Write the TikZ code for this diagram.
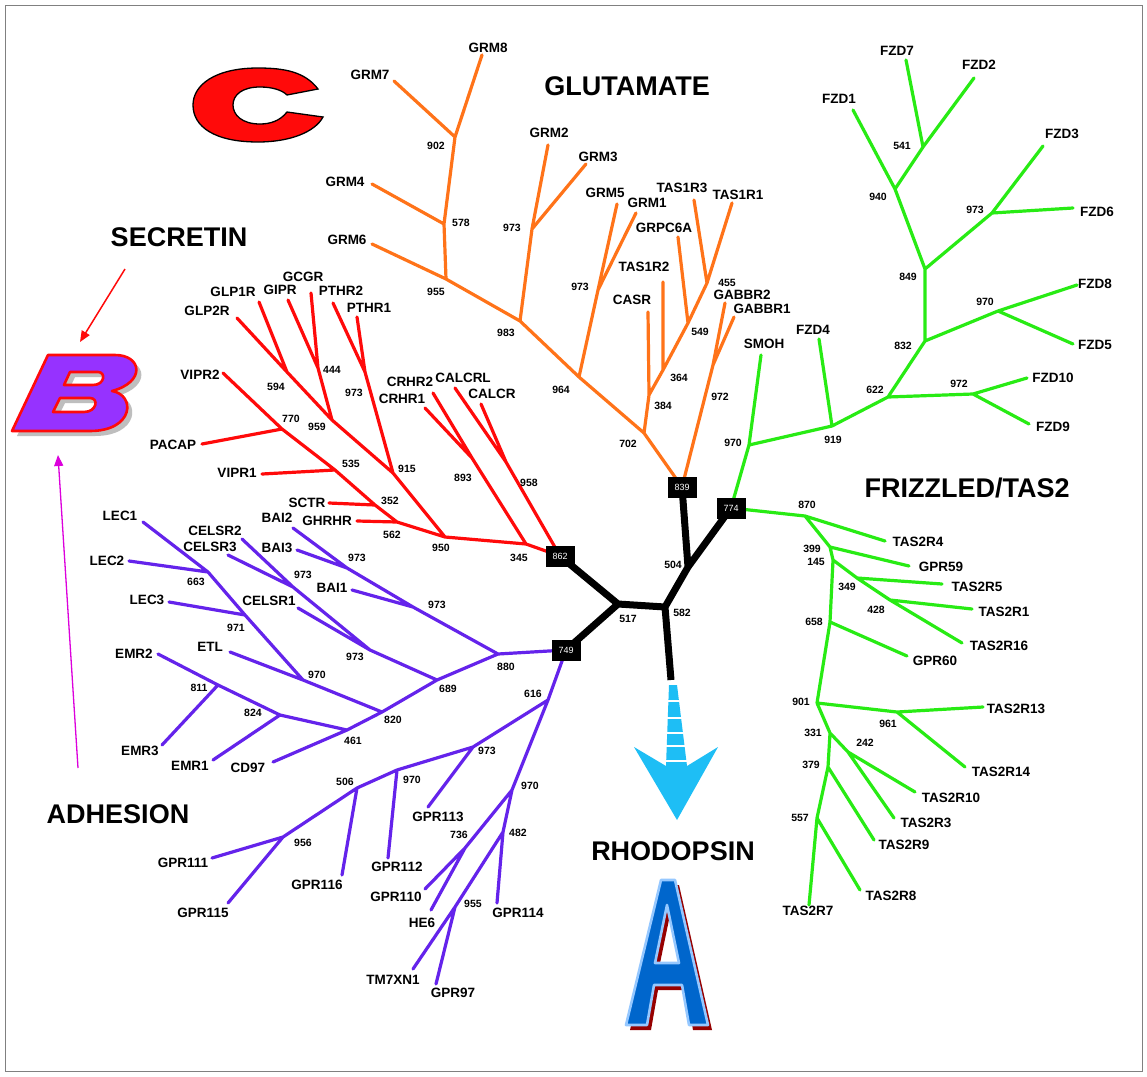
\documentclass[tikz,border=0pt]{standalone}
\usepackage{fontspec}
\setmainfont{Liberation Sans}
\usetikzlibrary{arrows.meta}
\definecolor{orn}{RGB}{255,115,25}
\definecolor{rd}{RGB}{255,10,10}
\definecolor{grn}{RGB}{40,235,20}
\definecolor{pur}{RGB}{100,35,235}
\definecolor{cyn}{RGB}{30,190,245}
\definecolor{ablue}{RGB}{0,102,204}
\definecolor{alight}{RGB}{150,200,255}
\definecolor{ashadow}{RGB}{150,0,0}
\definecolor{bpur}{RGB}{150,50,255}
\definecolor{mag}{RGB}{220,0,220}
\definecolor{shgray}{RGB}{190,190,190}
\tikzset{
 br/.style={line width=3.2pt, line cap=round},
 og/.style={br, draw=orn},
 rl/.style={br, draw=rd},
 gl/.style={br, draw=grn},
 pl/.style={br, draw=pur},
 kl/.style={line width=7pt, draw=black},
 lf/.style={font=\fontsize{13.5}{14}\selectfont\bfseries, inner sep=0pt},
 bs/.style={font=\fontsize{10.5}{11}\selectfont\bfseries, inner sep=0pt},
 big/.style={font=\fontsize{27}{28}\selectfont\bfseries, inner sep=0pt},
 blk/.style={fill=black, text=white, font=\fontsize{9}{9}\selectfont, minimum width=29pt, minimum height=21pt, inner sep=0pt},
}
\newcommand\myBshape{(12,431) -- (48,355) -- (115,355) .. controls (142,355) and (146,382) .. (112,391) .. controls (136,395) and (134,431) .. (90,431) -- cycle
 (70,372) -- (98,372) .. controls (106,372) and (105,385) .. (93,385) -- (64,385) -- cycle
 (60,398) -- (90,398) .. controls (99,398) and (97,412) .. (84,412) -- (53,412) -- cycle}
\newcommand\myAshape{(661,880) -- (675,880) -- (708,1025) -- (689,1025) -- (682,985) -- (654,985) -- (647,1025) -- (626,1025) -- cycle
 (667,905) -- (679,963) -- (655,963) -- cycle}
\begin{document}
\begin{tikzpicture}[x=1pt,y=-1pt]
\useasboundingbox (0,0) rectangle (1147,1076);
\fill[white] (0,0) rectangle (1147,1076);
\draw[gray, line width=1pt] (5,5) rectangle (1142,1071);

% ---------- coordinates: glutamate ----------
\coordinate (g8) at (482,55); \coordinate (g7) at (394,81); \coordinate (n902) at (455,137);
\coordinate (g4) at (372,184); \coordinate (n578) at (444,224); \coordinate (g6) at (372,244);
\coordinate (n955) at (446,279); \coordinate (n983) at (520,321); \coordinate (g2) at (548,145);
\coordinate (g3) at (586,164); \coordinate (n973a) at (532,229); \coordinate (n964) at (579,377);
\coordinate (n973b) at (598,290); \coordinate (g5) at (617,204); \coordinate (g1) at (636,213);
\coordinate (n702) at (644,433); \coordinate (n384) at (649,395); \coordinate (casr) at (648,312);
\coordinate (n364) at (663,370); \coordinate (tas1r2) at (663,282); \coordinate (n549) at (688,323);
\coordinate (grpc) at (678,237); \coordinate (n455) at (707,283); \coordinate (t1r3) at (694,200);
\coordinate (t1r1) at (732,203); \coordinate (n972) at (713,365); \coordinate (gb2) at (725,303);
\coordinate (gb1) at (734,317);
% ---------- boxes & centre ----------
\coordinate (c839) at (682,487); \coordinate (c774) at (731,508);
\coordinate (c862) at (560,556); \coordinate (c749) at (566,650);
\coordinate (n517) at (618,604); \coordinate (n582) at (665,607);
\coordinate (n504) at (688,567); \coordinate (rho) at (671,680);
% ---------- frizzled ----------
\coordinate (fz7) at (906,60); \coordinate (fz2) at (974,78); \coordinate (n541) at (923,147);
\coordinate (fz1) at (853,110); \coordinate (n940) at (895,189); \coordinate (n849) at (925,269);
\coordinate (n973f) at (992,213); \coordinate (fz3) at (1043,146); \coordinate (fz6) at (1073,208);
\coordinate (n832) at (925,341); \coordinate (n970f) at (998,311); \coordinate (fz8) at (1077,285);
\coordinate (fz5) at (1073,344); \coordinate (n622) at (888,397); \coordinate (n972f) at (973,394);
\coordinate (fz10) at (1027,378); \coordinate (fz9) at (1029,424); \coordinate (n919) at (832,426);
\coordinate (fz4) at (819,339); \coordinate (n970s) at (749,445); \coordinate (smoh) at (761,355);
% ---------- TAS2 ----------
\coordinate (n870) at (805,516); \coordinate (t4) at (885,541); \coordinate (n399) at (830,547);
\coordinate (g59) at (909,566); \coordinate (n145) at (833,560); \coordinate (n349) at (857,578);
\coordinate (t5) at (942,584); \coordinate (n428) at (890,600); \coordinate (t1) at (972,609);
\coordinate (t16) at (962,643); \coordinate (n658) at (830,622); \coordinate (g60) at (907,656);
\coordinate (n901) at (817,703); \coordinate (n961) at (897,712); \coordinate (t13) at (983,707);
\coordinate (t14) at (965,767); \coordinate (n331) at (830,733); \coordinate (n242) at (848,752);
\coordinate (t10) at (915,792); \coordinate (t3) at (894,818); \coordinate (n379) at (828,767);
\coordinate (t9) at (874,840); \coordinate (n557) at (817,818); \coordinate (t8) at (860,890);
\coordinate (t7) at (809,905);
% ---------- secretin ----------
\coordinate (n345) at (526,544); \coordinate (n950) at (445,537); \coordinate (n893) at (472,458);
\coordinate (crhr1) at (425,408); \coordinate (crhr2) at (433,393); \coordinate (n958) at (506,462);
\coordinate (calcrl) at (455,388); \coordinate (calcr) at (481,404); \coordinate (n562) at (397,522);
\coordinate (ghrhr) at (357,521); \coordinate (n352) at (375,505); \coordinate (sctr) at (329,503);
\coordinate (n535) at (335,470); \coordinate (vipr1) at (262,474); \coordinate (n770) at (282,429);
\coordinate (pacap) at (202,444); \coordinate (vipr2) at (223,373); \coordinate (n915) at (393,473);
\coordinate (n973s) at (365,372); \coordinate (pthr2) at (333,303); \coordinate (pthr1) at (357,317);
\coordinate (n959) at (332,420); \coordinate (n594) at (287,372); \coordinate (glp2r) at (237,318);
\coordinate (glp1r) at (259,302); \coordinate (n444) at (318,368); \coordinate (gipr) at (288,300);
\coordinate (gcgr) at (311,293);
% ---------- adhesion ----------
\coordinate (n880) at (498,654); \coordinate (bai2) at (293,528); \coordinate (bai3) at (297,550);
\coordinate (n973p) at (347,568); \coordinate (bai1) at (352,590); \coordinate (n973q) at (413,607);
\coordinate (n689) at (437,680); \coordinate (celsr2) at (242,539); \coordinate (celsr3) at (228,555);
\coordinate (n973r) at (293,587); \coordinate (celsr1) at (298,608); \coordinate (n973t) at (370,650);
\coordinate (n820) at (382,712); \coordinate (n970p) at (303,680); \coordinate (etl) at (230,652);
\coordinate (n971) at (245,615); \coordinate (lec3) at (169,602); \coordinate (n663) at (208,572);
\coordinate (lec2) at (129,561); \coordinate (lec1) at (143,522); \coordinate (n461) at (347,730);
\coordinate (n824) at (280,715); \coordinate (n811) at (218,685); \coordinate (emr2) at (158,654);
\coordinate (emr3) at (162,745); \coordinate (emr1) at (213,760); \coordinate (cd97) at (273,762);
\coordinate (n616) at (548,700); \coordinate (n973u) at (473,747); \coordinate (gpr113) at (428,807);
\coordinate (n970u) at (397,770); \coordinate (gpr112) at (388,858); \coordinate (n506) at (357,788);
\coordinate (gpr116) at (342,875); \coordinate (n956) at (283,837); \coordinate (gpr111) at (212,858);
\coordinate (gpr115) at (228,903); \coordinate (n970v) at (512,790); \coordinate (n736) at (465,848);
\coordinate (gpr110) at (425,889); \coordinate (he6) at (431,910); \coordinate (n482) at (503,832);
\coordinate (gpr114) at (497,903); \coordinate (n955a) at (455,907); \coordinate (tmtxn) at (413,969);
\coordinate (gpr97) at (436,984);

% ---------- branches ----------
\draw[og] (g8) -- (n902) (g7) -- (n902) (n902) -- (n578) (g4) -- (n578) (n578) -- (n955)
 (g6) -- (n955) (n955) -- (n983) (g2) -- (n973a) (g3) -- (n973a) (n973a) -- (n983)
 (n983) -- (n964) (g5) -- (n973b) (g1) -- (n973b) (n973b) -- (n964) (n964) -- (n702)
 (casr) -- (n384) (n384) -- (n702) (tas1r2) -- (n364) (n364) -- (n384) (grpc) -- (n549)
 (n549) -- (n364) (t1r3) -- (n455) (t1r1) -- (n455) (n455) -- (n549) (n702) -- (c839)
 (gb2) -- (n972) (gb1) -- (n972) (n972) -- (c839);
\draw[gl] (fz7) -- (n541) (fz2) -- (n541) (n541) -- (n940) (fz1) -- (n940) (n940) -- (n849)
 (n849) -- (n973f) (fz3) -- (n973f) (fz6) -- (n973f) (n849) -- (n832) (n832) -- (n970f)
 (fz8) -- (n970f) (fz5) -- (n970f) (n832) -- (n622) (n622) -- (n972f) (fz10) -- (n972f)
 (fz9) -- (n972f) (n622) -- (n919) (fz4) -- (n919) (n919) -- (n970s) (smoh) -- (n970s)
 (n970s) -- (c774);
\draw[gl] (c774) -- (n870) (n870) -- (t4) (n870) -- (n399) (n399) -- (g59) (n399) -- (n145)
 (n145) -- (n349) (n349) -- (t5) (n349) -- (n428) (n428) -- (t1) (n428) -- (t16)
 (n145) -- (n658) (n658) -- (g60) (n658) -- (n901) (n901) -- (n961) (n961) -- (t13)
 (n961) -- (t14) (n901) -- (n331) (n331) -- (n242) (n242) -- (t10) (n242) -- (t3)
 (n331) -- (n379) (n379) -- (t9) (n379) -- (n557) (n557) -- (t8) (n557) -- (t7);
\draw[rl] (n345) -- (c862) (n950) -- (n345) (n893) -- (n345) (crhr1) -- (n893) (crhr2) -- (n893)
 (n958) -- (c862) (calcrl) -- (n958) (calcr) -- (n958) (n562) -- (n950) (ghrhr) -- (n562)
 (n352) -- (n562) (sctr) -- (n352) (n535) -- (n352) (vipr1) -- (n535) (n770) -- (n535)
 (pacap) -- (n770) (vipr2) -- (n770) (n915) -- (n950) (n973s) -- (n915) (pthr2) -- (n973s)
 (pthr1) -- (n973s) (n959) -- (n915) (n594) -- (n959) (glp2r) -- (n594) (glp1r) -- (n594)
 (n444) -- (n959) (gipr) -- (n444) (gcgr) -- (n444);
\draw[pl] (n880) -- (c749) (bai2) -- (n973p) (bai3) -- (n973p) (n973p) -- (n973q) (bai1) -- (n973q)
 (n973q) -- (n880) (n689) -- (n880) (celsr2) -- (n973r) (celsr3) -- (n973r) (n973r) -- (n973t)
 (celsr1) -- (n973t) (n973t) -- (n689) (n820) -- (n689) (n970p) -- (n820) (etl) -- (n970p)
 (n971) -- (n970p) (lec3) -- (n971) (n663) -- (n971) (lec2) -- (n663) (lec1) -- (n663)
 (n461) -- (n820) (n824) -- (n461) (n811) -- (n824) (emr2) -- (n811) (emr3) -- (n811)
 (emr1) -- (n824) (cd97) -- (n461);
\draw[pl] (c749) -- (n616) (n616) -- (n973u) (gpr113) -- (n973u) (n973u) -- (n970u)
 (gpr112) -- (n970u) (n970u) -- (n506) (gpr116) -- (n506) (n506) -- (n956) (gpr111) -- (n956)
 (gpr115) -- (n956) (n616) -- (n970v) (n970v) -- (n736) (gpr110) -- (n736) (he6) -- (n736)
 (n970v) -- (n482) (gpr114) -- (n482) (n482) -- (n955a) (tmtxn) -- (n955a) (gpr97) -- (n955a);
% black core
\draw[kl] (c839) -- (n504) (c774) -- (n504) (n504) -- (n582) (n517) -- (n582)
 (c862) -- (n517) (c749) -- (n517) (n582) -- (rho);
\node[blk] (b839) at (c839) {839};
\node[blk] (b774) at (c774) {774};
\node[blk] (b862) at (c862) {862};
\node[blk] (b749) at (c749) {749};

% ---------- leaf labels ----------
\node[lf] (lGRM8) at (488,48) {GRM8}; \node[lf] (lGRM7) at (370,75) {GRM7};
\node[lf] (lGRM4) at (345,182) {GRM4}; \node[lf] (lGRM6) at (347,240) {GRM6};
\node[lf] (lGRM2) at (549,133) {GRM2}; \node[lf] (lGRM3) at (598,157) {GRM3};
\node[lf] (lGRM5) at (605,193) {GRM5}; \node[lf] (lGRM1) at (647,203) {GRM1};
\node[lf] (lT1R3) at (682,188) {TAS1R3}; \node[lf] (lT1R1) at (738,195) {TAS1R1};
\node[lf] (lGRPC) at (664,228) {GRPC6A}; \node[lf] (lT1R2) at (644,267) {TAS1R2};
\node[lf] (lCASR) at (632,300) {CASR}; \node[lf] (lGB2) at (742,295) {GABBR2};
\node[lf] (lGB1) at (762,309) {GABBR1};
\node[lf] (lFZ7) at (897,51) {FZD7}; \node[lf] (lFZ2) at (979,65) {FZD2};
\node[lf] (lFZ1) at (839,99) {FZD1}; \node[lf] (lFZ3) at (1062,134) {FZD3};
\node[lf] (lFZ6) at (1097,212) {FZD6}; \node[lf] (lFZ8) at (1095,284) {FZD8};
\node[lf] (lFZ5) at (1095,345) {FZD5}; \node[lf] (lFZ10) at (1053,378) {FZD10};
\node[lf] (lFZ9) at (1053,427) {FZD9}; \node[lf] (lFZ4) at (813,330) {FZD4};
\node[lf] (lSMOH) at (764,344) {SMOH};
\node[lf] (lT4) at (918,542) {TAS2R4}; \node[lf] (lG59) at (941,567) {GPR59};
\node[lf] (lT5) at (977,587) {TAS2R5}; \node[lf] (lT1) at (1004,612) {TAS2R1};
\node[lf] (lT16) at (999,646) {TAS2R16}; \node[lf] (lG60) at (935,661) {GPR60};
\node[lf] (lT13) at (1016,709) {TAS2R13}; \node[lf] (lT14) at (1001,772) {TAS2R14};
\node[lf] (lT10) at (951,798) {TAS2R10}; \node[lf] (lT3) at (926,823) {TAS2R3};
\node[lf] (lT9) at (904,845) {TAS2R9}; \node[lf] (lT8) at (891,896) {TAS2R8};
\node[lf] (lT7) at (808,911) {TAS2R7};
\node[lf] (lCRHR2) at (410,382) {CRHR2}; \node[lf] (lCRHR1) at (402,399) {CRHR1};
\node[lf] (lCALCRL) at (463,378) {CALCRL}; \node[lf] (lCALCR) at (492,394) {CALCR};
\node[lf] (lGHRHR) at (327,521) {GHRHR}; \node[lf] (lSCTR) at (307,503) {SCTR};
\node[lf] (lVIPR1) at (237,473) {VIPR1}; \node[lf] (lPACAP) at (173,445) {PACAP};
\node[lf] (lVIPR2) at (200,375) {VIPR2}; \node[lf] (lPTHR2) at (341,291) {PTHR2};
\node[lf] (lPTHR1) at (369,308) {PTHR1}; \node[lf] (lGLP2R) at (207,311) {GLP2R};
\node[lf] (lGLP1R) at (233,292) {GLP1R}; \node[lf] (lGIPR) at (280,290) {GIPR};
\node[lf] (lGCGR) at (303,277) {GCGR};
\node[lf] (lLEC1) at (120,516) {LEC1}; \node[lf] (lLEC2) at (107,561) {LEC2};
\node[lf] (lLEC3) at (147,600) {LEC3}; \node[lf] (lCELSR2) at (215,531) {CELSR2};
\node[lf] (lCELSR3) at (210,547) {CELSR3}; \node[lf] (lBAI2) at (277,518) {BAI2};
\node[lf] (lBAI3) at (277,548) {BAI3}; \node[lf] (lBAI1) at (332,588) {BAI1};
\node[lf] (lCELSR1) at (269,601) {CELSR1}; \node[lf] (lETL) at (210,647) {ETL};
\node[lf] (lEMR2) at (134,654) {EMR2}; \node[lf] (lEMR3) at (140,751) {EMR3};
\node[lf] (lEMR1) at (190,766) {EMR1}; \node[lf] (lCD97) at (248,768) {CD97};
\node[lf] (lG113) at (438,817) {GPR113}; \node[lf] (lG112) at (397,867) {GPR112};
\node[lf] (lG116) at (317,885) {GPR116}; \node[lf] (lG111) at (183,863) {GPR111};
\node[lf] (lG115) at (203,913) {GPR115}; \node[lf] (lG110) at (396,897) {GPR110};
\node[lf] (lHE6) at (422,923) {HE6}; \node[lf] (lG114) at (518,913) {GPR114};
\node[lf] (lTM) at (393,980) {TM7XN1}; \node[lf] (lG97) at (453,993) {GPR97};

% ---------- bootstrap values ----------
\node[bs] (v902) at (436,146) {902}; \node[bs] (v578) at (461,223) {578};
\node[bs] (v955) at (436,292) {955}; \node[bs] (v983) at (506,333) {983};
\node[bs] (v973a) at (512,228) {973}; \node[bs] (v973b) at (580,287) {973};
\node[bs] (v964) at (561,390) {964}; \node[bs] (v702) at (628,444) {702};
\node[bs] (v384) at (663,406) {384}; \node[bs] (v364) at (679,378) {364};
\node[bs] (v549) at (700,332) {549}; \node[bs] (v455) at (727,283) {455};
\node[bs] (v972) at (720,397) {972};
\node[bs] (v541) at (902,146) {541}; \node[bs] (v940) at (878,197) {940};
\node[bs] (v849) at (908,277) {849}; \node[bs] (v973f) at (975,210) {973};
\node[bs] (v970f) at (985,302) {970}; \node[bs] (v832) at (903,346) {832};
\node[bs] (v622) at (875,390) {622}; \node[bs] (v972f) at (959,384) {972};
\node[bs] (v919) at (833,440) {919}; \node[bs] (v970s) at (733,443) {970};
\node[bs] (v870) at (807,505) {870}; \node[bs] (v399) at (812,549) {399};
\node[bs] (v145) at (816,562) {145}; \node[bs] (v349) at (847,587) {349};
\node[bs] (v428) at (876,610) {428}; \node[bs] (v658) at (814,622) {658};
\node[bs] (v901) at (801,702) {901}; \node[bs] (v961) at (888,724) {961};
\node[bs] (v331) at (813,733) {331}; \node[bs] (v242) at (865,743) {242};
\node[bs] (v379) at (811,765) {379}; \node[bs] (v557) at (800,818) {557};
\node[bs] (v345) at (519,558) {345}; \node[bs] (v950) at (441,548) {950};
\node[bs] (v893) at (463,478) {893}; \node[bs] (v958) at (529,483) {958};
\node[bs] (v562) at (392,535) {562}; \node[bs] (v352) at (390,501) {352};
\node[bs] (v535) at (351,464) {535}; \node[bs] (v770) at (291,419) {770};
\node[bs] (v915) at (407,469) {915}; \node[bs] (v973s) at (354,393) {973};
\node[bs] (v959) at (317,427) {959}; \node[bs] (v594) at (276,387) {594};
\node[bs] (v444) at (332,370) {444};
\node[bs] (v880) at (506,667) {880}; \node[bs] (v973p) at (357,558) {973};
\node[bs] (v973q) at (437,605) {973}; \node[bs] (v689) at (448,689) {689};
\node[bs] (v973r) at (303,575) {973}; \node[bs] (v973t) at (355,657) {973};
\node[bs] (v820) at (393,720) {820}; \node[bs] (v970p) at (317,675) {970};
\node[bs] (v971) at (236,628) {971}; \node[bs] (v663) at (196,582) {663};
\node[bs] (v461) at (353,741) {461}; \node[bs] (v824) at (253,713) {824};
\node[bs] (v811) at (199,688) {811};
\node[bs] (v616) at (533,694) {616}; \node[bs] (v973u) at (487,751) {973};
\node[bs] (v970u) at (412,780) {970}; \node[bs] (v506) at (345,782) {506};
\node[bs] (v956) at (303,843) {956}; \node[bs] (v970v) at (530,786) {970};
\node[bs] (v736) at (459,835) {736}; \node[bs] (v482) at (518,833) {482};
\node[bs] (v955a) at (473,904) {955};
\node[bs] (v517) at (628,619) {517}; \node[bs] (v582) at (682,613) {582};
\node[bs] (v504) at (673,565) {504};

% ---------- family titles ----------
\node[big] (tGLU) at (627,86) {GLUTAMATE};
\node[big] (tSEC) at (179,237) {SECRETIN};
\node[big] (tFRZ) at (967,488) {FRIZZLED/TAS2};
\node[big] (tADH) at (118,814) {ADHESION};
\node[big] (tRHO) at (673,851) {RHODOPSIN};

% ---------- rhodopsin arrow ----------
\fill[cyn] (669,685) -- (677,685) -- (687,766) -- (718,747) -- (677,820) -- (634,747) -- (666,766) -- cycle;
\draw[white, line width=1.4pt] (667,701) -- (680,701) (666,718) -- (682,718) (666,733) -- (684,733)
 (665,746) -- (686,746) (665,761) -- (688,761);

% ---------- pointer arrows ----------
\coordinate (ra1) at (125,269); \coordinate (ra2) at (80,342);
\draw[rd, line width=1.5pt, -{Triangle[length=11pt,width=9pt]}] (ra1) -- (ra2);
\coordinate (ma1) at (78,768); \coordinate (ma2) at (58,455);
\draw[mag, line width=1.3pt, -{Triangle[length=11pt,width=9pt]}] (ma1) -- (ma2);

% ---------- letter logos ----------
\fill[shgray, even odd rule, shift={(5,5)}] \myBshape;
\filldraw[fill=bpur, draw=rd, line width=2.6pt, even odd rule, line join=round] \myBshape;

\filldraw[fill=rd, draw=black, line width=1.3pt]
 (318,89) .. controls (305,72) and (285,68) .. (258,68) .. controls (215,68) and (193,85) .. (193,105)
 .. controls (193,127) and (215,142) .. (258,142) .. controls (290,142) and (315,132) .. (323,117)
 -- (287,112) .. controls (280,121) and (270,124) .. (260,124) .. controls (242,124) and (233,115) .. (233,105)
 .. controls (233,95) and (242,87) .. (260,87) .. controls (272,87) and (282,90) .. (287,95) -- cycle;

\fill[ashadow, even odd rule, shift={(4,5)}] \myAshape;
\filldraw[fill=ablue, draw=alight, line width=2.6pt, even odd rule, line join=round] \myAshape;
\end{tikzpicture}
\end{document}
